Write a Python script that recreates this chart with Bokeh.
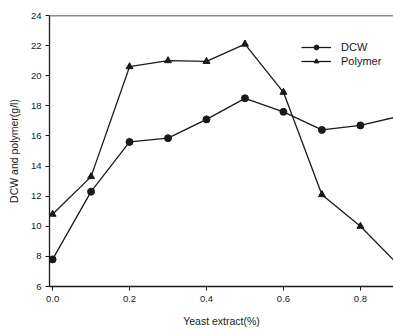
from bokeh.plotting import figure
from bokeh.models import Range1d, FixedTicker, Span, Legend, LegendItem, CustomJSTickFormatter
from bokeh.embed import file_html
from bokeh.resources import INLINE

yeast = [0.0, 0.1, 0.2, 0.3, 0.4, 0.5, 0.6, 0.7, 0.8, 0.9]
dcw = [7.8, 12.3, 15.6, 15.85, 17.1, 18.5, 17.6, 16.4, 16.7, 17.3]
polymer = [10.8, 13.3, 20.6, 21.0, 20.95, 22.1, 18.9, 12.1, 10.0, 7.4]
x_ticks = [0.0, 0.2, 0.4, 0.6, 0.8]
y_ticks = [6, 8, 10, 12, 14, 16, 18, 20, 22, 24]

FONT = "Liberation Sans"
INK = "#1a1a1a"

p = figure(width=393, height=331, output_backend="svg", toolbar_location=None,
           x_range=Range1d(-0.008, 0.886), y_range=Range1d(6, 24),
           min_border_left=49, min_border_right=0, min_border_top=15, min_border_bottom=45)
p.outline_line_color = None
p.xgrid.visible = False
p.ygrid.visible = False
p.background_fill_color = "white"
p.border_fill_color = "white"

for ax in (p.xaxis[0], p.yaxis[0]):
    ax.axis_line_color = INK
    ax.axis_line_width = 1.3
    ax.major_tick_line_color = INK
    ax.major_tick_out = 4
    ax.major_tick_in = 0
    ax.minor_tick_line_color = None
    ax.major_label_text_font = FONT
    ax.major_label_text_font_size = "9.5px"
    ax.major_label_text_color = INK
    ax.axis_label_text_font = FONT
    ax.axis_label_text_font_size = "10.5px"
    ax.axis_label_text_font_style = "normal"
    ax.axis_label_text_color = INK

p.xaxis.ticker = FixedTicker(ticks=x_ticks)
p.yaxis.ticker = FixedTicker(ticks=y_ticks)
p.xaxis.formatter = CustomJSTickFormatter(code="return tick.toFixed(1);")
p.xaxis.axis_label = "Yeast extract(%)"
p.yaxis.axis_label = "DCW and polymer(g/l)"
p.xaxis.major_label_standoff = 5
p.yaxis.major_label_standoff = 4
p.xaxis.axis_label_standoff = 10
p.yaxis.axis_label_standoff = 8

p.add_layout(Span(location=24, dimension="width", line_color=INK, line_width=1.3))

l1 = p.line(yeast, dcw, line_color=INK, line_width=1.3)
m1 = p.scatter(yeast, dcw, marker="circle", size=7, fill_color=INK, line_color=INK)
l2 = p.line(yeast, polymer, line_color=INK, line_width=1.3)
m2 = p.scatter(yeast, polymer, marker="triangle", size=7, fill_color=INK, line_color=INK)

legend = Legend(items=[LegendItem(label="DCW", renderers=[l1, m1]),
                       LegendItem(label="Polymer", renderers=[l2, m2])],
                location=(252, 219), border_line_color=None, background_fill_alpha=0,
                glyph_width=30, glyph_height=12, spacing=2, padding=2,
                label_text_font=FONT, label_text_font_size="11px", label_text_color=INK,
                label_standoff=10)
p.add_layout(legend, "center")

open("out.html", "w").write(file_html(p, INLINE))
